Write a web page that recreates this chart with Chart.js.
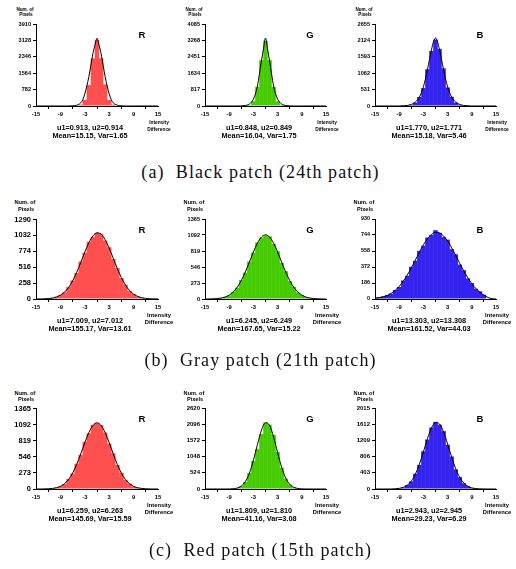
<!DOCTYPE html>
<html><head><meta charset="utf-8">
<script src="https://cdn.jsdelivr.net/npm/chart.js@4.4.0/dist/chart.umd.min.js"></script>
<style>
html,body{margin:0;padding:0;background:#fff;}
#fig{position:relative;width:516px;height:569px;overflow:hidden;background:#fff;}
canvas{position:absolute;}
.t{position:absolute;transform:translate(-50%,-50%);white-space:nowrap;font-family:"Liberation Sans",Arial,sans-serif;font-weight:bold;color:#000;line-height:1;}
.cap{position:absolute;transform:translate(-50%,-50%);white-space:pre;font-family:"Liberation Serif","Times New Roman",serif;font-size:18px;letter-spacing:1.1px;color:#111;line-height:1;}
</style></head><body><div id="fig"></div>
<script>
// ---------------- data ----------------
const xTicks = [-15, -9, -3, 3, 9, 15];
const channels = ['R', 'G', 'B'];
const captions = ['(a)  Black patch (24th patch)', '(b)  Gray patch (21th patch)', '(c)  Red patch (15th patch)'];

// (a) Black patch
const blackCurveX = [-15,-9,-8,-7,-6,-5,-4.5,-4,-3.5,-3,-2.5,-2,-1.5,-1,-0.5,0,0.5,1,1.5,2,2.5,3,3.5,4,4.5,5,6,7,8,9,15];
const blackR_yTicks = [0, 782, 1564, 2346, 3128, 3910];
const blackR_bins = [-6,-5,-4,-3,-2,-1,0,1,2,3,4,5,6];
const blackR_counts = [5,20,70,290,1000,2270,3150,2280,1030,290,70,20,5];
const blackR_curve = [0,0,0,0,8,35,80,150,300,580,950,1400,1950,2500,2900,3230,2900,2500,1950,1400,950,580,300,150,80,35,8,0,0,0,0];
const blackR_stats = ['u1=0.913, u2=0.914', 'Mean=15.15, Var=1.65'];

const blackG_yTicks = [0, 817, 1634, 2451, 3268, 4085];
const blackG_bins = [-5,-4,-3,-2,-1,0,1,2,3,4,5];
const blackG_counts = [15,60,240,950,2290,3250,2290,950,240,60,15];
const blackG_curve = [0,0,0,0,6,25,50,100,190,340,600,1000,1600,2250,2850,3383,2850,2250,1600,1000,600,340,190,100,50,25,6,0,0,0,0];
const blackG_stats = ['u1=0.848, u2=0.849', 'Mean=16.04, Var=1.75'];

const blackB_yTicks = [0, 531, 1062, 1593, 2124, 2655];
const blackB_bins = [-8,-7,-6,-5,-4,-3,-2,-1,0,1,2,3,4,5,6,7,8];
const blackB_counts = [3,10,40,110,290,580,1190,1780,2150,1850,1220,600,300,110,40,10,3];
const blackB_curve = [0,0,5,18,50,125,190,290,430,620,870,1170,1500,1820,2080,2200,2080,1820,1500,1170,870,620,430,290,190,125,50,18,5,0,0];
const blackB_stats = ['u1=1.770, u2=1.771', 'Mean=15.18, Var=5.46'];

// (b) Gray patch and (c) Red patch: curves sampled at integer differences
const intCurveX = [-15,-14,-13,-12,-11,-10,-9,-8,-7,-6,-5,-4,-3,-2,-1,0,1,2,3,4,5,6,7,8,9,10,11,12,13,14,15];

const grayR_yTicks = [0, 258, 516, 774, 1032, 1290];
const grayR_bins = [-12,-11,-10,-9,-8,-7,-6,-5,-4,-3,-2,-1,0,1,2,3,4,5,6,7,8,9,10,11,12];
const grayR_counts = [6,16,35,66,108,195,300,420,610,750,930,1010,1070,1060,950,840,650,505,340,232,135,82,40,20,9];
const grayR_curve = [0,1,3,7,15,32,62,111,187,293,431,592,761,913,1024,1074,1052,963,825,660,494,345,225,138,79,42,21,10,4,2,1];
const grayR_stats = ['u1=7.009, u2=7.012', 'Mean=155.17, Var=13.61'];

const grayG_yTicks = [0, 273, 546, 819, 1092, 1365];
const grayG_bins = [-12,-11,-10,-9,-8,-7,-6,-5,-4,-3,-2,-1,0,1,2,3,4,5,6,7,8,9,10,11,12];
const grayG_counts = [7,15,36,62,122,195,325,450,640,790,965,1045,1085,1070,940,815,615,475,305,210,115,70,32,18,8];
const grayG_curve = [0,1,3,7,17,34,66,119,201,315,461,629,802,953,1058,1095,1058,953,802,629,461,315,201,119,66,34,17,7,3,1,0];
const grayG_stats = ['u1=6.245, u2=6.249', 'Mean=167.65, Var=15.22'];

const grayB_yTicks = [0, 186, 372, 558, 744, 930];
const grayB_bins = [-15,-14,-13,-12,-11,-10,-9,-8,-7,-6,-5,-4,-3,-2,-1,0,1,2,3,4,5,6,7,8,9,10,11,12];
const grayB_counts = [18,20,30,45,62,105,140,215,270,375,445,560,620,715,745,800,770,720,690,580,520,400,335,240,185,120,90,50];
const grayB_curve = [10,15,25,40,65,100,147,206,278,361,452,543,629,700,750,774,768,733,674,596,507,415,327,248,178,122,78,45,18,4,0];
const grayB_stats = ['u1=13.303, u2=13.308', 'Mean=161.52, Var=44.03'];

const redR_yTicks = [0, 273, 546, 819, 1092, 1365];
const redR_bins = [-11,-10,-9,-8,-7,-6,-5,-4,-3,-2,-1,0,1,2,3,4,5,6,7,8,9,10,11];
const redR_counts = [8,22,48,85,168,262,430,580,800,945,1090,1110,1085,960,770,605,405,275,155,92,42,20,8];
const redR_curve = [0,0,1,4,9,21,45,89,160,269,416,595,785,957,1078,1122,1078,957,785,595,416,269,160,89,45,21,9,4,1,0,0];
const redR_stats = ['u1=6.259, u2=6.263', 'Mean=145.69, Var=15.59'];

const redG_yTicks = [0, 524, 1048, 1572, 2096, 2620];
const redG_bins = [-7,-6,-5,-4,-3,-2,-1,0,1,2,3,4,5,6,7,8];
const redG_counts = [30,90,230,520,910,1290,1780,2150,2080,1750,1200,690,340,150,55,15];
const redG_curve = [0,0,0,0,0,0,1,9,32,95,238,508,926,1437,1902,2144,2060,1687,1177,700,354,153,56,18,5,1,0,0,0,0,0];
const redG_stats = ['u1=1.809, u2=1.810', 'Mean=41.16, Var=3.08'];

const redB_yTicks = [0, 403, 806, 1209, 1612, 2015];
const redB_bins = [-9,-8,-7,-6,-5,-4,-3,-2,-1,0,1,2,3,4,5,6,7,8,9,10];
const redB_counts = [14,38,100,190,380,600,940,1230,1530,1670,1600,1440,1100,810,490,295,145,72,25,10];
const redB_curve = [0,0,0,0,1,6,16,41,95,197,367,614,924,1249,1516,1652,1617,1421,1122,795,506,289,149,69,28,11,4,1,0,0,0];
const redB_stats = ['u1=2.943, u2=2.945', 'Mean=29.23, Var=6.29'];

// ---------------- layout / style ----------------
const COLORS = {R: '#ff5050', G: '#44cc00', B: '#3322f0'};
const colL = [36, 205, 375], colR = [158, 326, 496];
const rowT = [24, 219, 408], rowB = [106, 299, 489];
const capY = [171.5, 359.5, 549.5];
const YW = 34, XH = 16, PT = 6, PR = 10;
const FONT = '"Liberation Sans", Arial, sans-serif';
const yTickSize = [[5.6, 5.6, 5.6], [7.5, 5.6, 5.4], [7.5, 6, 6]];
const numDy = [[-14, -8.7], [-16.2, -8.8], [-14.3, -7.7]];
const labSize = [4.6, 5.6, 5.6];

const fig = document.getElementById('fig');
function addText(txt, x, y, size, cls) {
  const d = document.createElement('div');
  d.className = cls || 't';
  d.textContent = txt;
  d.style.left = x + 'px';
  d.style.top = y + 'px';
  if (size) d.style.fontSize = size + 'px';
  fig.appendChild(d);
}

const panels = [
  [[blackR_yTicks, blackR_bins, blackR_counts, blackCurveX, blackR_curve, blackR_stats],
   [blackG_yTicks, blackG_bins, blackG_counts, blackCurveX, blackG_curve, blackG_stats],
   [blackB_yTicks, blackB_bins, blackB_counts, blackCurveX, blackB_curve, blackB_stats]],
  [[grayR_yTicks, grayR_bins, grayR_counts, intCurveX, grayR_curve, grayR_stats],
   [grayG_yTicks, grayG_bins, grayG_counts, intCurveX, grayG_curve, grayG_stats],
   [grayB_yTicks, grayB_bins, grayB_counts, intCurveX, grayB_curve, grayB_stats]],
  [[redR_yTicks, redR_bins, redR_counts, intCurveX, redR_curve, redR_stats],
   [redG_yTicks, redG_bins, redG_counts, intCurveX, redG_curve, redG_stats],
   [redB_yTicks, redB_bins, redB_counts, intCurveX, redB_curve, redB_stats]]
];

function makeChart(r, c) {
  const [yTicks, bins, counts, cx, cy, stats] = panels[r][c];
  const ch = channels[c];
  const L = colL[c], R = colR[c], T = rowT[r], B = rowB[r];
  const cv = document.createElement('canvas');
  const w = R - L + YW + PR, h = B - T + PT + XH;
  cv.width = w; cv.height = h;
  cv.style.width = w + 'px'; cv.style.height = h + 'px';
  cv.style.left = (L - YW) + 'px'; cv.style.top = (T - PT) + 'px';
  fig.appendChild(cv);
  const axisCommon = {
    grid: {drawOnChartArea: false, drawTicks: true, tickLength: 3, color: '#000', lineWidth: 1},
    border: {display: true, color: '#000', width: 1}
  };
  new Chart(cv, {
    type: 'bar',
    data: {datasets: [
      {type: 'line', data: cx.map((x, i) => ({x: x, y: cy[i]})), borderColor: '#000', borderWidth: 1,
       pointRadius: 0, cubicInterpolationMode: 'monotone', fill: false, order: 0},
      {type: 'bar', data: bins.map((x, i) => ({x: x, y: counts[i]})), backgroundColor: COLORS[ch],
       borderWidth: 0, barPercentage: 1.12, categoryPercentage: 1, order: 1}
    ]},
    options: {
      responsive: false, animation: false, devicePixelRatio: 1,
      layout: {padding: {left: 0, top: PT, right: PR, bottom: 0}},
      plugins: {legend: {display: false}, tooltip: {enabled: false}},
      scales: {
        x: Object.assign({
          type: 'linear', min: -15, max: 15, offset: false,
          afterBuildTicks: s => { s.ticks = xTicks.map(v => ({value: v})); },
          afterFit: s => { s.height = XH; },
          ticks: {font: {family: FONT, size: 5.8, weight: 'bold'}, color: '#000', padding: 2,
                  maxRotation: 0, autoSkip: false, callback: v => String(v)}
        }, axisCommon),
        y: Object.assign({
          type: 'linear', min: 0, max: yTicks[yTicks.length - 1],
          afterBuildTicks: s => { s.ticks = yTicks.map(v => ({value: v})); },
          afterFit: s => { s.width = YW; },
          ticks: {font: {family: FONT, size: yTickSize[r][c], weight: 'bold'}, color: '#000', padding: 2,
                  autoSkip: false, callback: v => String(v)}
        }, axisCommon)
      }
    }
  });
  // annotations
  addText('Num. of', L - 11, T + numDy[r][0], labSize[r]);
  addText('Pixels', L - 10, T + numDy[r][1], labSize[r]);
  addText(ch, R - 16, T + 10.5, 9.5);
  addText('Intensity', R + 1, B + 16.7, labSize[r] + 0.2);
  addText('Difference', R + 1, B + 24.3, labSize[r] + 0.2);
  addText(stats[0], L + 54, B + 21.5, 7.3);
  addText(stats[1], L + 54, B + 29.8, 7.3);
}

for (let r = 0; r < 3; r++) {
  for (let c = 0; c < 3; c++) makeChart(r, c);
  addText(captions[r], 260.5, capY[r], null, 'cap');
}
</script></body></html>
